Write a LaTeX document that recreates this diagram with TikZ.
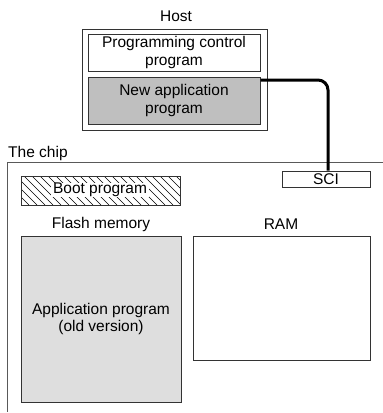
\documentclass[tikz,border=0pt]{standalone}
\usepackage{fontspec}
\setmainfont{Liberation Sans}
\begin{document}
\begin{tikzpicture}[x=1pt,y=-1pt,
  box/.style={draw=black!80,line width=1pt},
  lbl/.style={font=\fontsize{15.5}{17.5}\selectfont,align=center,inner sep=0pt},
  link/.style={line width=3pt,rounded corners=10pt}]
\useasboundingbox (0,0) rectangle (383,413);
% Host
\node[lbl] (hostlbl) at (176,16) {Host};
\draw[box] (82,29) rectangle (267,130);
\node[box,minimum width=172pt,minimum height=37pt,inner sep=0pt,lbl] (pcp) at (174,52.5) {Programming control\\program};
\node[box,fill=black!25,minimum width=172pt,minimum height=47pt,inner sep=0pt,lbl] (nap) at (174,100.5) {New application\\program};
% chip
\node[lbl,anchor=west] (chiplbl) at (8,153) {The chip};
\draw[draw=black!65,line width=1.6pt] (383,162.5) -- (7.5,162.5) -- (7.5,412);
\node[box,minimum width=88pt,minimum height=16pt,inner sep=0pt,lbl] (sci) at (326,179) {SCI};
% boot program hatched
\begin{scope}
\clip (21,176) rectangle (180,205);
\foreach \i in {-40,-32,...,200} {
  \draw[line width=0.7pt] (\i,176) -- (\i+29,205);
}
\end{scope}
\draw[box] (21,176) rectangle (180,205);
\node[lbl,fill=white,inner xsep=2pt,inner ysep=0pt] (boot) at (100,190) {Boot program};
% flash
\node[lbl] (flashlbl) at (101,224) {Flash memory};
\node[box,fill=black!13,minimum width=160pt,minimum height=166pt,inner sep=0pt,lbl] (flash) at (101,319) {Application program\\(old version)};
% RAM
\node[lbl] (ramlbl) at (281,224) {RAM};
\node[box,minimum width=177pt,minimum height=124pt,inner sep=0pt] (ram) at (281.5,298) {};
% connector
\draw[link] (nap.east |- 0,80) -- (328,80) -- (sci.north -| 328,0);
\end{tikzpicture}
\end{document}
